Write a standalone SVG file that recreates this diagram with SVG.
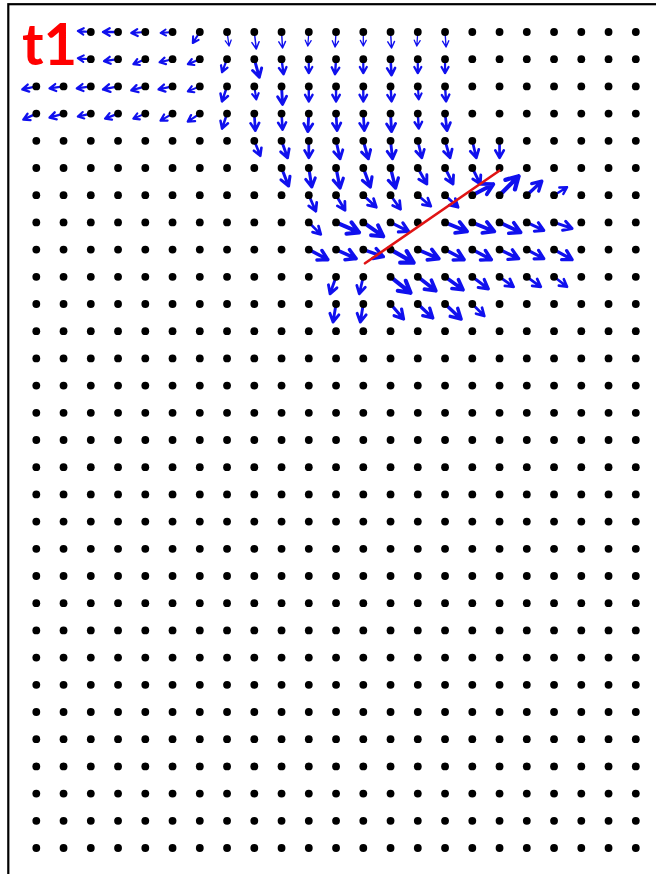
<svg xmlns="http://www.w3.org/2000/svg" xmlns:xlink="http://www.w3.org/1999/xlink" width="656" height="874" viewBox="0 0 656 874">
<style>
.dot{fill:#000}
.arr{fill:none;stroke:#1010ee;stroke-linecap:round;stroke-linejoin:round}
</style>
<defs>
<path id="a" class="arr" stroke-width="0.16" d="M0 0H1M0.56 -0.25L1 0L0.56 0.25"/>
<path id="t" class="arr" stroke-width="0.09" d="M0 0H1M0.6 -0.21L1 0L0.6 0.21"/>
<g id="rowA" class="dot">
<circle cx="90.8" cy="0" r="3.9"/><circle cx="118.05" cy="0" r="3.9"/><circle cx="145.3" cy="0" r="3.9"/><circle cx="172.55" cy="0" r="3.9"/><circle cx="199.8" cy="0" r="3.9"/><circle cx="227.05" cy="0" r="3.9"/><circle cx="254.3" cy="0" r="3.9"/><circle cx="281.55" cy="0" r="3.9"/><circle cx="308.8" cy="0" r="3.9"/><circle cx="336.05" cy="0" r="3.9"/><circle cx="363.3" cy="0" r="3.9"/><circle cx="390.55" cy="0" r="3.9"/><circle cx="417.8" cy="0" r="3.9"/><circle cx="445.05" cy="0" r="3.9"/><circle cx="472.3" cy="0" r="3.9"/><circle cx="499.55" cy="0" r="3.9"/><circle cx="526.8" cy="0" r="3.9"/><circle cx="554.05" cy="0" r="3.9"/><circle cx="581.3" cy="0" r="3.9"/><circle cx="608.55" cy="0" r="3.9"/><circle cx="635.8" cy="0" r="3.9"/>
</g>
<g id="rowB" class="dot">
<circle cx="36.3" cy="0" r="3.9"/><circle cx="63.55" cy="0" r="3.9"/>
</g>
</defs>
<rect id="frame" x="8.3" y="4.2" width="700" height="900" fill="none" stroke="#000" stroke-width="2.2"/>
<g id="arrows">
<!-- row 0 -->
<use href="#a" transform="matrix(-13 -1 1 -13 90.8 32)"/>
<use href="#a" transform="matrix(-15 0 0 -15 118.05 32)"/>
<use href="#a" transform="matrix(-14 1 -1 -14 145.3 32)"/>
<use href="#a" transform="matrix(-12 1 -1 -12 172.55 32)"/>
<use href="#a" transform="matrix(-7 11 -11 -7 199.8 32)"/>
<use href="#t" transform="matrix(2 14 -14 2 227.05 32)"/>
<use href="#t" transform="matrix(2 17 -17 2 254.3 32)"/>
<use href="#t" transform="matrix(1 16 -16 1 281.55 32)"/>
<use href="#t" transform="matrix(-1 14 -14 -1 308.8 32)"/>
<use href="#t" transform="matrix(-1 15 -15 -1 336.05 32)"/>
<use href="#t" transform="matrix(0 14 -14 0 363.3 32)"/>
<use href="#t" transform="matrix(1 16 -16 1 390.55 32)"/>
<use href="#t" transform="matrix(-1 14 -14 -1 417.8 32)"/>
<use href="#t" transform="matrix(1 15 -15 1 445.05 32)"/>
<!-- row 1 -->
<use href="#a" transform="matrix(-13 -1 1 -13 90.8 59.2)"/>
<use href="#a" transform="matrix(-14 2 -2 -14 118.05 59.2)"/>
<use href="#a" transform="matrix(-12 5 -5 -12 145.3 59.2)"/>
<use href="#a" transform="matrix(-13 3 -3 -13 172.55 59.2)"/>
<use href="#a" transform="matrix(-12 5 -5 -12 199.8 59.2)"/>
<use href="#a" transform="matrix(-5 13 -13 -5 227.05 59.2)"/>
<use href="#a" transform="matrix(5 18 -18 5 254.3 59.2)"/>
<use href="#a" transform="matrix(2 15 -15 2 281.55 59.2)"/>
<use href="#a" transform="matrix(0 14 -14 0 308.8 59.2)"/>
<use href="#a" transform="matrix(-1 15 -15 -1 336.05 59.2)"/>
<use href="#a" transform="matrix(0 14 -14 0 363.3 59.2)"/>
<use href="#a" transform="matrix(1 16 -16 1 390.55 59.2)"/>
<use href="#a" transform="matrix(0 14 -14 0 417.8 59.2)"/>
<use href="#a" transform="matrix(0 14 -14 0 445.05 59.2)"/>
<!-- row 2 -->
<use href="#a" transform="matrix(-14 3 -3 -14 36.3 86.4)"/>
<use href="#a" transform="matrix(-14 2 -2 -14 63.55 86.4)"/>
<use href="#a" transform="matrix(-14 2 -2 -14 90.8 86.4)"/>
<use href="#a" transform="matrix(-15 3 -3 -15 118.05 86.4)"/>
<use href="#a" transform="matrix(-14 4 -4 -14 145.3 86.4)"/>
<use href="#a" transform="matrix(-14 3 -3 -14 172.55 86.4)"/>
<use href="#a" transform="matrix(-12 5 -5 -12 199.8 86.4)"/>
<use href="#a" transform="matrix(-5 15 -15 -5 227.05 86.4)"/>
<use href="#a" transform="matrix(2 13 -13 2 254.3 86.4)"/>
<use href="#a" transform="matrix(1 18 -18 1 281.55 86.4)"/>
<use href="#a" transform="matrix(0 15 -15 0 308.8 86.4)"/>
<use href="#a" transform="matrix(0 15 -15 0 336.05 86.4)"/>
<use href="#a" transform="matrix(0 15 -15 0 363.3 86.4)"/>
<use href="#a" transform="matrix(1 15 -15 1 390.55 86.4)"/>
<use href="#a" transform="matrix(1 13 -13 1 417.8 86.4)"/>
<use href="#a" transform="matrix(1 15 -15 1 445.05 86.4)"/>
<!-- row 3 -->
<use href="#a" transform="matrix(-13 6 -6 -13 36.3 113.6)"/>
<use href="#a" transform="matrix(-14 4 -4 -14 63.55 113.6)"/>
<use href="#a" transform="matrix(-13 3 -3 -13 90.8 113.6)"/>
<use href="#a" transform="matrix(-13 5 -5 -13 118.05 113.6)"/>
<use href="#a" transform="matrix(-12 5 -5 -12 145.3 113.6)"/>
<use href="#a" transform="matrix(-12 7 -7 -12 172.55 113.6)"/>
<use href="#a" transform="matrix(-12 8 -8 -12 199.8 113.6)"/>
<use href="#a" transform="matrix(-5 15 -15 -5 227.05 113.6)"/>
<use href="#a" transform="matrix(1 17 -17 1 254.3 113.6)"/>
<use href="#a" transform="matrix(1 16 -16 1 281.55 113.6)"/>
<use href="#a" transform="matrix(-1 18 -18 -1 308.8 113.6)"/>
<use href="#a" transform="matrix(1 17 -17 1 336.05 113.6)"/>
<use href="#a" transform="matrix(1 17 -17 1 363.3 113.6)"/>
<use href="#a" transform="matrix(1 18 -18 1 390.55 113.6)"/>
<use href="#a" transform="matrix(1 15 -15 1 417.8 113.6)"/>
<use href="#a" transform="matrix(2 17 -17 2 445.05 113.6)"/>
<!-- row 4 -->
<use href="#a" transform="matrix(6 15 -15 6 254.3 140.8)"/>
<use href="#a" transform="matrix(6 17 -17 6 281.55 140.8)"/>
<use href="#a" transform="matrix(0 17 -17 0 308.8 140.8)"/>
<use href="#a" transform="matrix(4 18 -18 4 336.05 140.8)"/>
<use href="#a" transform="matrix(5 18 -18 5 363.3 140.8)"/>
<use href="#a" transform="matrix(2 18 -18 2 390.55 140.8)"/>
<use href="#a" transform="matrix(4 17 -17 4 417.8 140.8)"/>
<use href="#a" transform="matrix(5 17 -17 5 445.05 140.8)"/>
<use href="#a" transform="matrix(4 17 -17 4 472.3 140.8)"/>
<use href="#a" transform="matrix(0 17 -17 0 499.55 140.8)"/>
<!-- row 5 -->
<use href="#a" transform="matrix(7 18 -18 7 281.55 168)"/>
<use href="#a" transform="matrix(3 19 -19 3 308.8 168)"/>
<use href="#a" transform="matrix(4 20 -20 4 336.05 168)"/>
<use href="#a" transform="matrix(7 19 -19 7 363.3 168)"/>
<use href="#a" transform="matrix(5 20 -20 5 390.55 168)"/>
<use href="#a" transform="matrix(9 16 -16 9 417.8 168)"/>
<use href="#a" transform="matrix(8 16 -16 8 445.05 168)"/>
<use href="#a" transform="matrix(8 16 -16 8 472.3 168)"/>
<!-- row 6 -->
<use href="#a" transform="matrix(7 16 -16 7 308.8 195.2)"/>
<use href="#a" transform="matrix(9 15 -15 9 336.05 195.2)"/>
<use href="#a" transform="matrix(13 12 -12 13 363.3 195.2)"/>
<use href="#a" transform="matrix(10 14 -14 10 390.55 195.2)"/>
<use href="#a" transform="matrix(13 11 -11 13 417.8 195.2)"/>
<use href="#a" transform="matrix(13 12 -12 13 445.05 195.2)"/>
<use href="#a" transform="matrix(21 -11 11 21 472.3 195.2)"/>
<use href="#a" transform="matrix(19 -19 19 19 499.55 195.2)"/>
<use href="#a" transform="matrix(15 -14 14 15 526.8 195.2)"/>
<use href="#a" transform="matrix(13 -8 8 13 554.05 195.2)"/>
<!-- row 7 -->
<use href="#a" transform="matrix(12 12 -12 12 308.8 222.4)"/>
<use href="#a" transform="matrix(23 10 -10 23 336.05 222.4)"/>
<use href="#a" transform="matrix(20 14 -14 20 363.3 222.4)"/>
<use href="#a" transform="matrix(18 9 -9 18 390.55 222.4)"/>
<use href="#a" transform="matrix(22 9 -9 22 445.05 222.4)"/>
<use href="#a" transform="matrix(22 9 -9 22 472.3 222.4)"/>
<use href="#a" transform="matrix(21 10 -10 21 499.55 222.4)"/>
<use href="#a" transform="matrix(17 8 -8 17 526.8 222.4)"/>
<use href="#a" transform="matrix(18 6 -6 18 554.05 222.4)"/>
<!-- row 8 -->
<use href="#a" transform="matrix(19 10 -10 19 308.8 249.6)"/>
<use href="#a" transform="matrix(20 9 -9 20 336.05 249.6)"/>
<use href="#a" transform="matrix(20 7 -7 20 363.3 249.6)"/>
<use href="#a" transform="matrix(23 13 -13 23 390.55 249.6)"/>
<use href="#a" transform="matrix(21 9 -9 21 417.8 249.6)"/>
<use href="#a" transform="matrix(19 10 -10 19 445.05 249.6)"/>
<use href="#a" transform="matrix(19 10 -10 19 472.3 249.6)"/>
<use href="#a" transform="matrix(19 9 -9 19 499.55 249.6)"/>
<use href="#a" transform="matrix(17 9 -9 17 526.8 249.6)"/>
<use href="#a" transform="matrix(18 10 -10 18 554.05 249.6)"/>
<!-- row 9 -->
<use href="#a" transform="matrix(-6 17 -17 -6 336.05 276.8)"/>
<use href="#a" transform="matrix(-4 17 -17 -4 363.3 276.8)"/>
<use href="#a" transform="matrix(20 16 -16 20 390.55 276.8)"/>
<use href="#a" transform="matrix(18 14 -14 18 417.8 276.8)"/>
<use href="#a" transform="matrix(18 13 -13 18 445.05 276.8)"/>
<use href="#a" transform="matrix(16 12 -12 16 472.3 276.8)"/>
<use href="#a" transform="matrix(14 10 -10 14 499.55 276.8)"/>
<use href="#a" transform="matrix(14 10 -10 14 526.8 276.8)"/>
<use href="#a" transform="matrix(13 10 -10 13 554.05 276.8)"/>
<!-- row 10 -->
<use href="#a" transform="matrix(-3 18 -18 -3 336.05 304)"/>
<use href="#a" transform="matrix(-3 18 -18 -3 363.3 304)"/>
<use href="#a" transform="matrix(13 15 -15 13 390.55 304)"/>
<use href="#a" transform="matrix(15 14 -14 15 417.8 304)"/>
<use href="#a" transform="matrix(16 15 -15 16 445.05 304)"/>
<use href="#a" transform="matrix(12 12 -12 12 472.3 304)"/>
</g>
<g id="grid">
<use href="#rowA" y="32"/><use href="#rowA" y="59.2"/>
<use href="#rowA" y="86.4"/><use href="#rowB" y="86.4"/>
<use href="#rowA" y="113.6"/><use href="#rowB" y="113.6"/>
<use href="#rowA" y="140.8"/><use href="#rowB" y="140.8"/>
<use href="#rowA" y="168"/><use href="#rowB" y="168"/>
<use href="#rowA" y="195.2"/><use href="#rowB" y="195.2"/>
<use href="#rowA" y="222.4"/><use href="#rowB" y="222.4"/>
<use href="#rowA" y="249.6"/><use href="#rowB" y="249.6"/>
<use href="#rowA" y="276.8"/><use href="#rowB" y="276.8"/>
<use href="#rowA" y="304"/><use href="#rowB" y="304"/>
<use href="#rowA" y="331.2"/><use href="#rowB" y="331.2"/>
<use href="#rowA" y="358.4"/><use href="#rowB" y="358.4"/>
<use href="#rowA" y="385.6"/><use href="#rowB" y="385.6"/>
<use href="#rowA" y="412.8"/><use href="#rowB" y="412.8"/>
<use href="#rowA" y="440"/><use href="#rowB" y="440"/>
<use href="#rowA" y="467.2"/><use href="#rowB" y="467.2"/>
<use href="#rowA" y="494.4"/><use href="#rowB" y="494.4"/>
<use href="#rowA" y="521.6"/><use href="#rowB" y="521.6"/>
<use href="#rowA" y="548.8"/><use href="#rowB" y="548.8"/>
<use href="#rowA" y="576"/><use href="#rowB" y="576"/>
<use href="#rowA" y="603.2"/><use href="#rowB" y="603.2"/>
<use href="#rowA" y="630.4"/><use href="#rowB" y="630.4"/>
<use href="#rowA" y="657.6"/><use href="#rowB" y="657.6"/>
<use href="#rowA" y="684.8"/><use href="#rowB" y="684.8"/>
<use href="#rowA" y="712"/><use href="#rowB" y="712"/>
<use href="#rowA" y="739.2"/><use href="#rowB" y="739.2"/>
<use href="#rowA" y="766.4"/><use href="#rowB" y="766.4"/>
<use href="#rowA" y="793.6"/><use href="#rowB" y="793.6"/>
<use href="#rowA" y="820.8"/><use href="#rowB" y="820.8"/>
<use href="#rowA" y="848"/><use href="#rowB" y="848"/>
</g>
<line id="front" x1="365" y1="263.3" x2="499.3" y2="170.7" stroke="#e01414" stroke-width="2.6" stroke-linecap="round"/>
<text id="label" x="22" y="65" font-family="Lato, 'Liberation Sans', sans-serif" font-weight="bold" font-size="58" fill="#ff0000">t1</text>
</svg>
